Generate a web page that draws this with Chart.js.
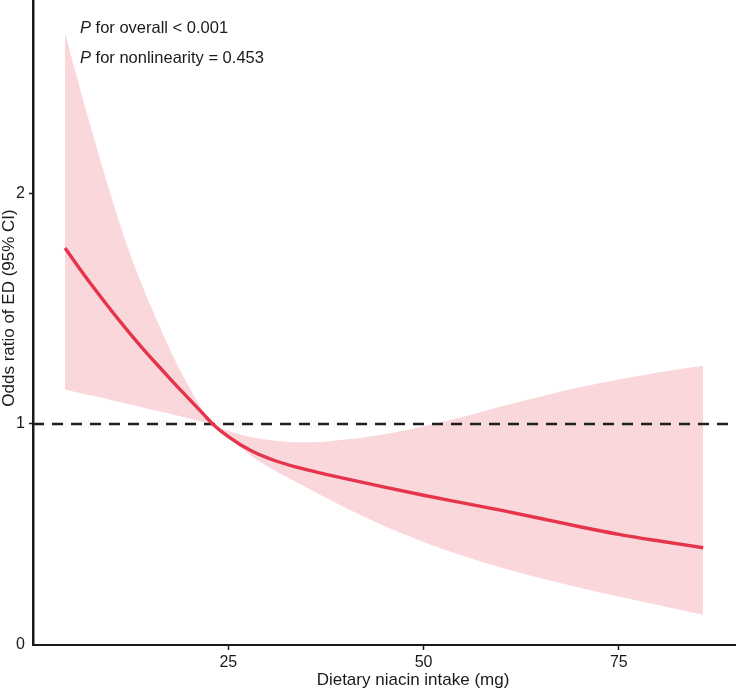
<!DOCTYPE html>
<html>
<head>
<meta charset="utf-8">
<script src="https://cdn.jsdelivr.net/npm/chart.js@4"></script>
<style>
  html, body { margin: 0; padding: 0; background: #fff; }
  #wrap { width: 736px; height: 690px; }
</style>
</head>
<body>
<div id="wrap"><canvas id="rcsChart" width="736" height="690"></canvas></div>
<script>
// niacin intake (mg) and odds ratios
const intake  = [4.1, 6, 8, 10, 12, 14, 16, 18, 20, 22, 23, 25, 28, 31, 34, 37, 40, 45, 50, 55, 60, 65, 70, 75, 80, 85.8];
const orFit   = [1.765, 1.674, 1.582, 1.494, 1.41, 1.33, 1.254, 1.18, 1.108, 1.036, 1.0, 0.945, 0.882, 0.84, 0.81, 0.785, 0.762, 0.725, 0.69, 0.657, 0.624, 0.589, 0.553, 0.52, 0.492, 0.462];
const orUpper = [2.70, 2.46, 2.22, 1.99, 1.78, 1.60, 1.44, 1.29, 1.16, 1.045, 1.0, 0.97, 0.942, 0.927, 0.92, 0.922, 0.932, 0.955, 0.99, 1.03, 1.077, 1.119, 1.159, 1.193, 1.224, 1.253];
const orLower = [1.15, 1.135, 1.12, 1.104, 1.088, 1.072, 1.056, 1.04, 1.024, 1.008, 1.0, 0.94, 0.86, 0.796, 0.742, 0.688, 0.636, 0.556, 0.487, 0.427, 0.375, 0.329, 0.288, 0.25, 0.213, 0.17];
const refLine = [{x: 0, y: 1}, {x: 90, y: 1}];
const yTicks = [1, 2];
const xTicks = [25, 50, 75];
const annotations = [
    {p: 'P', rest: ' for overall < 0.001'},
    {p: 'P', rest: ' for nonlinearity = 0.453'}
];
const xTitle = 'Dietary niacin intake (mg)';
const yTitle = 'Odds ratio of ED (95% CI)';

const Y_MIN = 0.039, Y_MAX = 2.843;
const pts = arr => intake.map((x, i) => ({x: x, y: arr[i]}));
const FONT = '"Liberation Sans", Arial, sans-serif';
const INK = '#1a1a1a';

const textPlugin = {
    id: 'pText',
    afterDraw(chart) {
        const c = chart.ctx;
        c.save();
        c.fillStyle = INK;
        c.textBaseline = 'middle';
        annotations.forEach((a, i) => {
            const y = 28 + i * 30;
            let x = 80;
            c.font = 'italic 16.5px ' + FONT;
            c.fillText(a.p, x, y);
            x += c.measureText(a.p).width;
            c.font = '16.5px ' + FONT;
            c.fillText(a.rest, x, y);
        });
        // axis titles
        c.font = '17px ' + FONT;
        c.textAlign = 'center';
        c.fillText(xTitle, 413, 680);
        c.translate(9, 308);
        c.rotate(-Math.PI / 2);
        c.fillText(yTitle, 0, 0);
        c.restore();
    }
};

const ctx = document.getElementById('rcsChart').getContext('2d');
const rcsChart = new Chart(ctx, {
    type: 'line',
    plugins: [textPlugin],
    data: {
        datasets: [
        {
            label: 'upper',
            data: pts(orUpper),
            borderWidth: 0,
            pointRadius: 0,
            backgroundColor: 'rgb(249, 215, 219)',
            fill: '+1',
            order: 3,
            cubicInterpolationMode: 'monotone'
        },
        {
            label: 'lower',
            data: pts(orLower),
            borderWidth: 0,
            pointRadius: 0,
            fill: false,
            order: 3,
            cubicInterpolationMode: 'monotone'
        },
        {
            label: 'ref',
            data: refLine,
            borderColor: '#1f1f1f',
            borderWidth: 2.4,
            borderDash: [11, 8],
            pointRadius: 0,
            fill: false,
            order: 1
        },
        {
            label: 'OR',
            data: pts(orFit),
            borderColor: '#e5344b',
            borderWidth: 3.4,
            pointRadius: 0,
            fill: false,
            order: 0,
            cubicInterpolationMode: 'monotone'
        }]
    },
    options: {
        responsive: false,
        animation: false,
        layout: { padding: 0 },
        plugins: {
            legend: { display: false },
            tooltip: { enabled: false }
        },
        scales: {
            x: {
                type: 'linear',
                min: 0,
                max: 90,
                afterBuildTicks: s => { s.ticks = xTicks.map(v => ({value: v})); },
                afterFit: s => { s.height = 45; s.paddingLeft = 0; s.paddingRight = 0; },
                grid: { display: true, drawOnChartArea: false, drawTicks: true, tickLength: 5, color: INK, tickWidth: 1.5 },
                border: { display: true, color: INK, width: 2 },
                ticks: { color: INK, font: {family: FONT, size: 16}, padding: 3, maxRotation: 0 },
                title: { display: false }
            },
            y: {
                type: 'linear',
                min: Y_MIN,
                max: Y_MAX,
                afterBuildTicks: s => { s.ticks = [{value: Y_MIN}].concat(yTicks.map(v => ({value: v}))); },
                afterFit: s => { s.width = 33; s.paddingTop = 0; s.paddingBottom = 0; },
                grid: {
                    display: true, drawOnChartArea: false, drawTicks: true, tickLength: 4, tickWidth: 1.5,
                    color: c => (c.tick && c.tick.value === Y_MIN) ? 'rgba(0,0,0,0)' : INK
                },
                border: { display: true, color: INK, width: 2.5 },
                ticks: {
                    color: INK, font: {family: FONT, size: 16}, padding: 4,
                    callback: v => (v === Y_MIN ? '0' : String(v))
                },
                title: { display: false }
            }
        }
    }
});
</script>
</body>
</html>
